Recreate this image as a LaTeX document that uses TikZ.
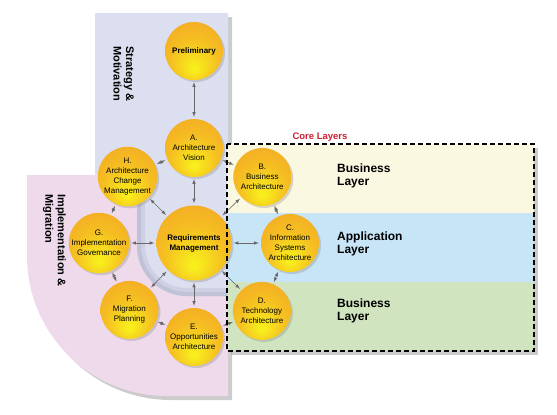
\documentclass[tikz,border=0pt]{standalone}
\usepackage{fontspec}
\setmainfont{Liberation Sans}
\usepackage{tikz}
\usetikzlibrary{calc}
\usetikzlibrary{arrows,shapes}
\usetikzlibrary{shadows}
\definecolor{lav}{RGB}{220,223,240}
\definecolor{grv}{RGB}{192,195,216}
\definecolor{pnk}{RGB}{238,218,235}
\definecolor{bl}{RGB}{250,248,224}
\definecolor{al}{RGB}{200,228,247}
\definecolor{tl}{RGB}{208,228,192}
\definecolor{core}{RGB}{205,30,50}
\definecolor{ar}{RGB}{105,105,105}
\definecolor{yin}{RGB}{248,238,28}
\definecolor{yout}{RGB}{243,160,38}
\pgfdeclareradialshading{ball}{\pgfpoint{0bp}{-16bp}}{color(0bp)=(yin); color(2bp)=(yin); color(20bp)=(yout!60!yin); color(42bp)=(yout); color(50bp)=(yout)}
\tikzstyle{phase}=[circle,minimum size=58pt,inner sep=0pt,align=center,shading=ball,
	drop shadow={opacity=.3,shadow xshift=2pt,shadow yshift=-2pt},font=\fontsize{8}{10}\selectfont]
\tikzstyle{hub}=[font=\bfseries\fontsize{8}{10}\selectfont]
\tikzstyle{panel}=[drop shadow={opacity=.4,shadow xshift=4pt,shadow yshift=-4pt}]
\tikzstyle{side}=[font=\bfseries\fontsize{11}{12.5}\selectfont,rotate=-90,align=left,inner sep=0pt,anchor=north west]
\tikzstyle{layer}=[font=\bfseries\fontsize{12}{12.5}\selectfont,align=left,anchor=west,inner sep=0pt]
\tikzstyle{link}=[<->,ar,line width=.6pt,shorten >=2pt,shorten <=2pt]

\begin{document}
\begin{tikzpicture}[x=1pt,y=-1pt,>=latex,node distance=97pt]
	\useasboundingbox (0,0) rectangle (557,415);
	% panels
	\fill[lav,panel] (95,13) -- (228,13) -- (228,296) -- (187,296) arc[start angle=90,end angle=180,radius=50] -- (137,175) -- (95,175) -- cycle;
	\fill[pnk,panel] (27,175) -- (137,175) -- (137,246) arc[start angle=180,end angle=90,radius=50] -- (228,296) -- (228,396) -- (167,396) arc[start angle=90,end angle=180,radius=140] -- cycle;
	\begin{scope}
		\clip (137,175) -- (137,246) arc[start angle=180,end angle=90,radius=50] -- (228,296) -- (228,175) -- cycle;
		\draw[grv!50!lav,line width=16pt] (137,170) -- (137,246) arc[start angle=180,end angle=90,radius=50] -- (240,296);
		\draw[grv,line width=8pt] (137,170) -- (137,246) arc[start angle=180,end angle=90,radius=50] -- (240,296);
	\end{scope}
	\fill[tl,panel] (227,144) rectangle (534,351);
	\fill[bl] (227,144) rectangle (534,213);
	\fill[al] (227,213) rectangle (534,282);

	\node[side] (sm) at (134,46) {Strategy \&\\Motivation};
	\node[side] (im) at (66,194) {Implementation \&\\Migration};

	% phases
	\node[phase,hub,minimum size=75pt] (req) at (194,243) {Requirements\\Management};
	\node[phase] (a) at ($(req)+(-90:95)$) {A.\\Architecture\\Vision};
	\node[phase] (b) at ($(req)+(-44:95)$) {B.\\Business\\Architecture};
	\node[phase] (c) at ($(req)+(0:96)$) {C.\\Information\\Systems\\Architecture};
	\node[phase] (d) at ($(req)+(45:96)$) {D.\\Technology\\Architecture};
	\node[phase] (e) at ($(req)+(90:94)$) {E.\\Opportunities\\Architecture};
	\node[phase] (f) at ($(req)+(134:93)$) {F.\\Migration\\Planning};
	\node[phase] (g) at ($(req)+(180:95)$) {G.\\Implementation\\Governance};
	\node[phase] (h) at ($(req)+(225:94)$) {H.\\Architecture\\Change\\Management};
	\node[phase,hub] (pre) [above of=a] {Preliminary};

	\path[link]
		(pre)	edge	(a)
		(a)	edge	(h)
		(a)	edge	(b)
		(a)	edge	(req)
		(b)	edge	(c)
		(b)	edge	(req)
		(c)	edge	(d)
		(c)	edge	(req)
		(d)	edge	(e)
		(d)	edge	(req)
		(e)	edge	(f)
		(e)	edge	(req)
		(f)	edge	(g)
		(f)	edge	(req)
		(g)	edge	(h)
		(g)	edge	(req)
		(h)	edge	(req);

	% core layers
	\draw[line width=1.1pt,dash pattern=on 5pt off 3pt] (227,144) rectangle (534,351);
	\node[font=\bfseries\fontsize{9.5}{11}\selectfont,text=core] (cl) at (320,137) {Core Layers};
	\node[layer] (bus) at (337,176) {Business\\Layer};
	\node[layer] (app) at (337,244) {Application\\Layer};
	\node[layer] (tec) at (337,311) {Business\\Layer};
\end{tikzpicture}
\end{document}
